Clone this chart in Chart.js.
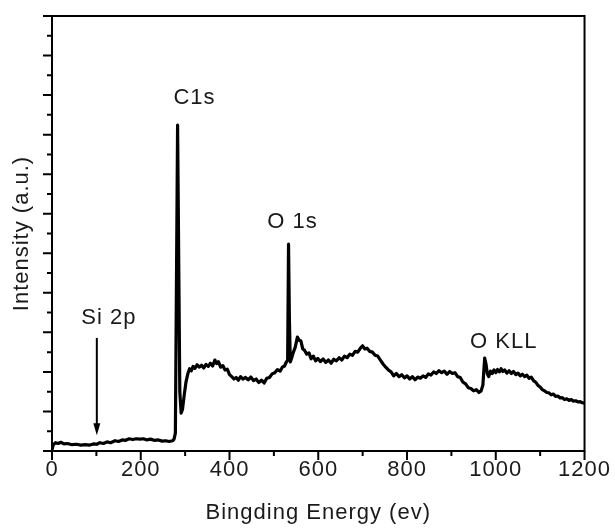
<!DOCTYPE html>
<html>
<head>
<meta charset="utf-8">
<script src="https://cdn.jsdelivr.net/npm/chart.js@4"></script>
<style>
  html, body { margin: 0; padding: 0; background: #ffffff; }
  #wrap { width: 615px; height: 532px; }
</style>
</head>
<body>
<div id="wrap"><canvas id="c" width="615" height="532"></canvas></div>
<script>
// ---- data ----
const energy = [0,3,8,14,20,27,35,45,55,65,75,85,95,101,108,116,124,132,142,150,158,166,174,182,190,198,206,214,222,230,240,248,256,264,272,275,278,283,288,291,294,298,302,306,310,314,318,322,327,332,337,342,347,352,357,362,367,371,375,380,385,390,395,400,405,410,415,420,425,430,436,442,448,454,460,466,472,478,484,490,496,502,508,514,519,524,528,531,533,535,537,540,544,548,553,557,561,565,569,574,579,584,589,594,599,605,611,617,623,629,635,641,647,653,659,665,671,677,683,689,695,700,705,710,716,722,728,734,740,746,752,758,764,770,776,782,788,794,800,806,812,818,824,830,836,842,848,854,860,866,872,878,884,890,896,902,908,914,920,926,932,938,944,950,956,962,967,971,975,978,981,984,988,992,996,1000,1004,1008,1012,1016,1020,1025,1030,1035,1040,1045,1050,1055,1060,1065,1070,1075,1080,1085,1090,1095,1100,1105,1110,1115,1120,1125,1130,1135,1140,1145,1150,1155,1160,1165,1170,1175,1180,1185,1190,1195,1200];
const intensity = [0.03,0.16,0.21,0.19,0.22,0.18,0.19,0.16,0.17,0.15,0.16,0.15,0.18,0.17,0.21,0.19,0.23,0.21,0.26,0.24,0.28,0.27,0.31,0.29,0.31,0.30,0.31,0.28,0.30,0.27,0.28,0.25,0.26,0.24,0.26,0.30,0.45,8.24,1.5,0.96,1.05,1.42,1.75,1.95,2.08,2.03,2.14,2.09,2.18,2.12,2.17,2.10,2.19,2.14,2.22,2.15,2.30,2.21,2.26,2.12,2.16,2.05,2.07,1.93,1.88,1.82,1.86,1.79,1.88,1.82,1.86,1.80,1.87,1.78,1.82,1.73,1.79,1.72,1.84,1.86,1.95,1.98,2.06,2.02,2.12,2.15,2.25,2.30,5.23,3.3,2.25,2.35,2.5,2.62,2.88,2.80,2.78,2.58,2.55,2.45,2.48,2.33,2.40,2.28,2.34,2.26,2.33,2.24,2.30,2.22,2.32,2.28,2.36,2.30,2.40,2.36,2.45,2.42,2.52,2.50,2.60,2.66,2.58,2.60,2.52,2.50,2.42,2.40,2.30,2.20,2.12,2.05,2.00,1.90,1.96,1.88,1.93,1.85,1.90,1.82,1.88,1.80,1.87,1.84,1.90,1.86,1.95,1.92,2.00,1.96,2.03,1.98,2.02,1.94,2.01,1.96,1.98,1.88,1.86,1.74,1.70,1.60,1.58,1.52,1.55,1.48,1.52,1.67,2.35,2.20,1.95,1.88,2.02,1.96,2.05,1.98,2.06,2.00,2.08,2.01,2.05,1.97,2.03,1.96,2.01,1.93,1.97,1.90,1.94,1.88,1.92,1.84,1.87,1.78,1.74,1.66,1.62,1.55,1.52,1.48,1.47,1.42,1.44,1.38,1.39,1.34,1.35,1.30,1.32,1.28,1.30,1.26,1.27,1.24,1.25,1.22,1.21];

const xTitle = 'Bingding Energy (ev)';
const yTitle = 'Intensity (a.u.)';

// peak labels: text, energy, intensity
const peakLabels = ['C1s', 'O 1s', 'Si 2p', 'O KLL'];
const peakLabelX = [321, 542, 128, 1018];
const peakLabelY = [8.93, 5.79, 3.36, 2.76];
// arrow marking Si 2p: energy, from-intensity, to-intensity
const arrowX = [101];
const arrowFrom = [2.86];
const arrowTo = [0.40];

const FONT = "'Liberation Sans', Arial, sans-serif";

const framePlugin = {
  id: 'frame',
  beforeDraw(chart) {
    chart.ctx.letterSpacing = '1px';
  },
  afterDraw(chart) {
    const ctx = chart.ctx;
    const xs = chart.scales.x, ys = chart.scales.y;
    const a = chart.chartArea;
    ctx.save();
    ctx.strokeStyle = '#000';
    ctx.lineWidth = 2;
    ctx.strokeRect(a.left, a.top, a.right - a.left, a.bottom - a.top);
    ctx.beginPath();
    for (let v = 0; v <= 1200; v += 100) {
      const px = xs.getPixelForValue(v);
      const len = (v % 200 === 0) ? 9 : 5;
      ctx.moveTo(px, a.bottom);
      ctx.lineTo(px, a.bottom + len);
    }
    for (let v = 0; v <= 11; v += 0.5) {
      const py = ys.getPixelForValue(v);
      const len = (v % 1 === 0) ? 9 : 5;
      ctx.moveTo(a.left, py);
      ctx.lineTo(a.left - len, py);
    }
    ctx.stroke();
    ctx.fillStyle = '#1a1a1a';
    ctx.font = '22px ' + FONT;
    ctx.textAlign = 'center';
    ctx.textBaseline = 'middle';
    for (let i = 0; i < peakLabels.length; i++) {
      ctx.fillText(peakLabels[i], xs.getPixelForValue(peakLabelX[i]), ys.getPixelForValue(peakLabelY[i]));
    }
    for (let i = 0; i < arrowX.length; i++) {
      const ax = xs.getPixelForValue(arrowX[i]);
      const y1 = ys.getPixelForValue(arrowFrom[i]);
      const y2 = ys.getPixelForValue(arrowTo[i]);
      ctx.strokeStyle = '#000';
      ctx.lineWidth = 2;
      ctx.beginPath();
      ctx.moveTo(ax, y1);
      ctx.lineTo(ax, y2 - 8);
      ctx.stroke();
      ctx.fillStyle = '#000';
      ctx.beginPath();
      ctx.moveTo(ax, y2);
      ctx.lineTo(ax - 3.5, y2 - 12);
      ctx.lineTo(ax + 3.5, y2 - 12);
      ctx.closePath();
      ctx.fill();
    }
    ctx.restore();
  }
};

new Chart(document.getElementById('c'), {
  type: 'line',
  data: {
    datasets: [{
      data: energy.map((e, i) => ({ x: e, y: intensity[i] })),
      borderColor: '#000',
      borderWidth: 3.2,
      borderJoinStyle: 'round',
      pointRadius: 0,
      tension: 0,
      fill: false
    }]
  },
  options: {
    responsive: false,
    animation: false,
    devicePixelRatio: 1,
    layout: { padding: { left: 0, top: 16, right: 29, bottom: 0 } },
    plugins: { legend: { display: false }, tooltip: { enabled: false } },
    scales: {
      x: {
        type: 'linear', min: 0, max: 1200,
        afterFit: s => { s.height = 81; },
        grid: { display: true, drawOnChartArea: false, drawTicks: false },
        border: { display: false },
        ticks: { stepSize: 200, color: '#1a1a1a', padding: 6, maxRotation: 0,
                 callback: v => String(v),
                 font: { family: FONT, size: 22 } },
        title: { display: true, text: xTitle, color: '#1a1a1a',
                 font: { family: FONT, size: 22 }, padding: { top: 0, bottom: 6 } }
      },
      y: {
        type: 'linear', min: 0, max: 11,
        afterFit: s => { s.width = 52; },
        grid: { display: true, drawOnChartArea: false, drawTicks: false },
        border: { display: false },
        ticks: { display: false, stepSize: 1 },
        title: { display: true, text: yTitle, color: '#1a1a1a',
                 font: { family: FONT, size: 22 }, padding: { top: 9, bottom: 0 } }
      }
    }
  },
  plugins: [framePlugin]
});
</script>
</body>
</html>
